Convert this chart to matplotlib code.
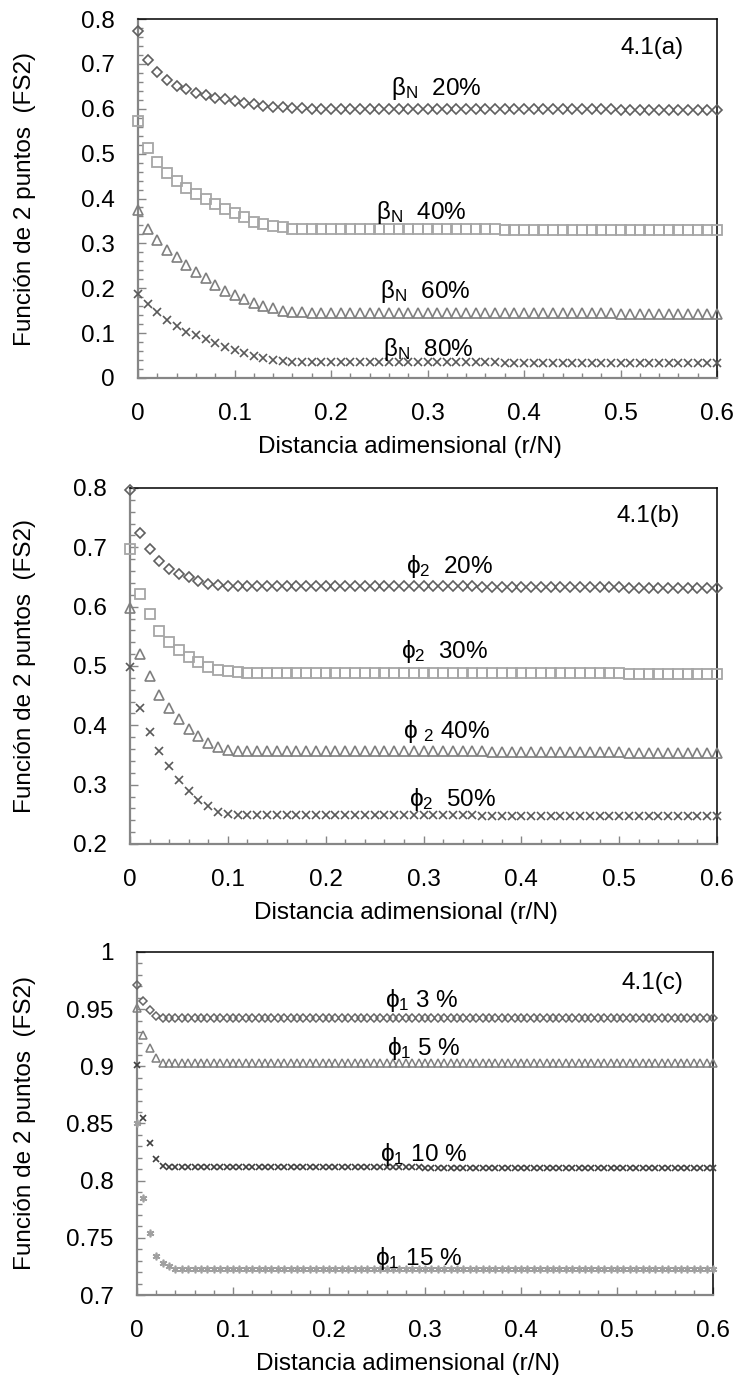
import matplotlib
matplotlib.use('Agg')
import matplotlib.pyplot as plt
import numpy as np
from matplotlib.ticker import MultipleLocator, FormatStrFormatter

plt.rcParams['font.family'] = ['Liberation Sans', 'DejaVu Sans']
plt.rcParams['mathtext.fontset'] = 'custom'
plt.rcParams['mathtext.rm'] = 'Liberation Sans'
plt.rcParams['mathtext.it'] = 'Liberation Sans:italic'
plt.rcParams['mathtext.fallback'] = 'stixsans'
fs = 17.5
plt.rcParams['font.size'] = fs

# ---- data ----
# 4.1(a): beta_N, x every 0.01
x_a = np.round(np.arange(61) * 0.01, 2)
beta20 = [0.773, 0.709, 0.683, 0.664, 0.651, 0.643, 0.636, 0.630, 0.625, 0.621,
          0.617, 0.613, 0.610, 0.607, 0.605, 0.603, 0.602, 0.601] + [0.600] * 20 + [0.599] * 12 + [0.598] * 11
beta40 = [0.573, 0.512, 0.482, 0.457, 0.440, 0.424, 0.410, 0.398, 0.388, 0.377,
          0.367, 0.358, 0.348, 0.343, 0.339, 0.336, 0.333, 0.332] + [0.331] * 20 + [0.330] * 12 + [0.329] * 11
beta60 = [0.374, 0.331, 0.308, 0.285, 0.269, 0.252, 0.237, 0.222, 0.207, 0.194,
          0.185, 0.176, 0.168, 0.161, 0.155, 0.150, 0.147, 0.146] + [0.145] * 20 + [0.144] * 12 + [0.143] * 11
beta80 = [0.187, 0.165, 0.147, 0.130, 0.116, 0.103, 0.095, 0.087, 0.078, 0.069,
          0.062, 0.055, 0.049, 0.044, 0.040, 0.037, 0.036, 0.035] + [0.035] * 20 + [0.034] * 12 + [0.033] * 11

# 4.1(b): phi_2, x every 0.01
x_b = np.round(np.arange(61) * 0.01, 2)
phi2_20 = [0.797, 0.725, 0.697, 0.677, 0.664, 0.655, 0.650, 0.644, 0.639, 0.637,
           0.635] + [0.634] * 25 + [0.633] * 15 + [0.632] * 10
phi2_30 = [0.698, 0.621, 0.587, 0.559, 0.541, 0.527, 0.516, 0.507, 0.499, 0.494,
           0.492, 0.490] + [0.489] * 25 + [0.488] * 14 + [0.487] * 10
phi2_40 = [0.597, 0.521, 0.483, 0.451, 0.430, 0.410, 0.393, 0.382, 0.371, 0.363,
           0.358, 0.356] + [0.356] * 25 + [0.355] * 14 + [0.354] * 10
phi2_50 = [0.498, 0.429, 0.389, 0.357, 0.331, 0.308, 0.290, 0.275, 0.264, 0.254,
           0.251] + [0.249] * 25 + [0.248] * 15 + [0.247] * 10

# 4.1(c): phi_1, 91 points over 0..0.6
x_c = np.linspace(0, 0.6, 91)
phi1_3 = [0.971, 0.957, 0.949, 0.944] + [0.942] * 87
phi1_5 = [0.951, 0.927, 0.916, 0.907] + [0.903] * 87
phi1_10 = [0.901, 0.855, 0.833, 0.819, 0.813] + [0.812] * 40 + [0.811] * 46
phi1_15 = [0.850, 0.785, 0.754, 0.734, 0.728, 0.725] + [0.723] * 85

ylab = 'Función de 2 puntos  (FS2)'
xlab = 'Distancia adimensional (r/N)'

W, H = 737, 1384
fig = plt.figure(figsize=(W / 100, H / 100), dpi=100)


def make_axes(left, top, right, bottom):
    ax = fig.add_axes([left / W, 1 - bottom / H, (right - left) / W, (bottom - top) / H])
    for s in ['left', 'bottom']:
        ax.spines[s].set_color('#868686')
        ax.spines[s].set_linewidth(1.6)
    for s in ['top', 'right']:
        ax.spines[s].set_color('black')
        ax.spines[s].set_linewidth(1.1)
    ax.tick_params(which='both', direction='in', color='#868686', width=1.0,
                   top=False, right=False, labelsize=fs)
    ax.tick_params(which='major', length=6)
    ax.tick_params(which='minor', length=3.5)
    ax.tick_params(axis='y', pad=17)
    ax.tick_params(axis='x', pad=18)
    ax.set_xlim(0, 0.6)
    ax.xaxis.set_major_locator(MultipleLocator(0.1))
    ax.xaxis.set_minor_locator(MultipleLocator(0.02))
    ax.xaxis.set_major_formatter(FormatStrFormatter('%g'))
    ax.yaxis.set_major_formatter(FormatStrFormatter('%g'))
    wpx = right - left
    hpx = bottom - top
    ax.set_ylabel(ylab, fontsize=fs, va='center')
    ax.yaxis.set_label_coords((25 - left) / wpx, 0.5)
    ax.set_xlabel(xlab, fontsize=fs)
    ax.xaxis.set_label_coords(0.47, -58 / hpx)
    return ax


mk = dict(linestyle='none', markerfacecolor='none', clip_on=False, zorder=3)

# ---- 4.1(a)
ax1 = make_axes(138, 19, 717, 378)
ax1.set_ylim(0, 0.8)
ax1.yaxis.set_major_locator(MultipleLocator(0.1))
ax1.yaxis.set_minor_locator(MultipleLocator(0.02))
ax1.plot(x_a, beta20, marker='D', ms=5, mew=1.2, color='#5f5f5f', **mk)
ax1.plot(x_a, beta40, marker='s', ms=6.5, mew=1.3, color='#a6a6a6', **mk)
ax1.plot(x_a, beta60, marker='^', ms=6.5, mew=1.2, color='#7f7f7f', **mk)
ax1.plot(x_a, beta80, marker='x', ms=5.5, mew=1.2, color='#595959', **mk)
ax1.text(0.262, 0.630, r'$\mathrm{\beta_N}$  20%')
ax1.text(0.247, 0.355, r'$\mathrm{\beta_N}$  40%')
ax1.text(0.251, 0.178, r'$\mathrm{\beta_N}$  60%')
ax1.text(0.254, 0.049, r'$\mathrm{\beta_N}$  80%')
ax1.text(0.565, 0.722, '4.1(a)', ha='right')

# ---- 4.1(b)
ax2 = make_axes(130, 488, 717, 844)
ax2.set_ylim(0.2, 0.8)
ax2.yaxis.set_major_locator(MultipleLocator(0.1))
ax2.yaxis.set_minor_locator(MultipleLocator(0.02))
ax2.plot(x_b, phi2_20, marker='D', ms=5, mew=1.2, color='#5f5f5f', **mk)
ax2.plot(x_b, phi2_30, marker='s', ms=6.5, mew=1.3, color='#a6a6a6', **mk)
ax2.plot(x_b, phi2_40, marker='^', ms=6.5, mew=1.2, color='#7f7f7f', **mk)
ax2.plot(x_b, phi2_50, marker='x', ms=5.5, mew=1.2, color='#595959', **mk)
ax2.text(0.282, 0.657, r'$\mathrm{\phi_2}$  20%')
ax2.text(0.277, 0.514, r'$\mathrm{\phi_2}$  30%')
ax2.text(0.279, 0.379, r'$\mathrm{\phi\ {}_2}$ 40%')
ax2.text(0.285, 0.264, r'$\mathrm{\phi_2}$  50%')
ax2.text(0.562, 0.743, '4.1(b)', ha='right')

# ---- 4.1(c)
ax3 = make_axes(137, 952, 713, 1295)
ax3.set_ylim(0.7, 1.0)
ax3.yaxis.set_major_locator(MultipleLocator(0.05))
ax3.yaxis.set_minor_locator(MultipleLocator(0.01))
ax3.plot(x_c, phi1_3, marker='D', ms=4.3, mew=1.1, color='#666666', **mk)
ax3.plot(x_c, phi1_5, marker='^', ms=5.5, mew=1.1, color='#808080', **mk)
ax3.plot(x_c, phi1_10, marker='x', ms=5, mew=1.2, color='#404040', **mk)
ax3.plot(x_c, phi1_15, marker=(6, 2, 0), ms=5.5, mew=1.2, color='#a0a0a0', **mk)
ax3.text(0.258, 0.952, r'$\mathrm{\phi_1}$ 3 %')
ax3.text(0.260, 0.910, r'$\mathrm{\phi_1}$ 5 %')
ax3.text(0.253, 0.817, r'$\mathrm{\phi_1}$ 10 %')
ax3.text(0.248, 0.726, r'$\mathrm{\phi_1}$ 15 %')
ax3.text(0.569, 0.968, '4.1(c)', ha='right')

plt.savefig('out.png', dpi=100)
